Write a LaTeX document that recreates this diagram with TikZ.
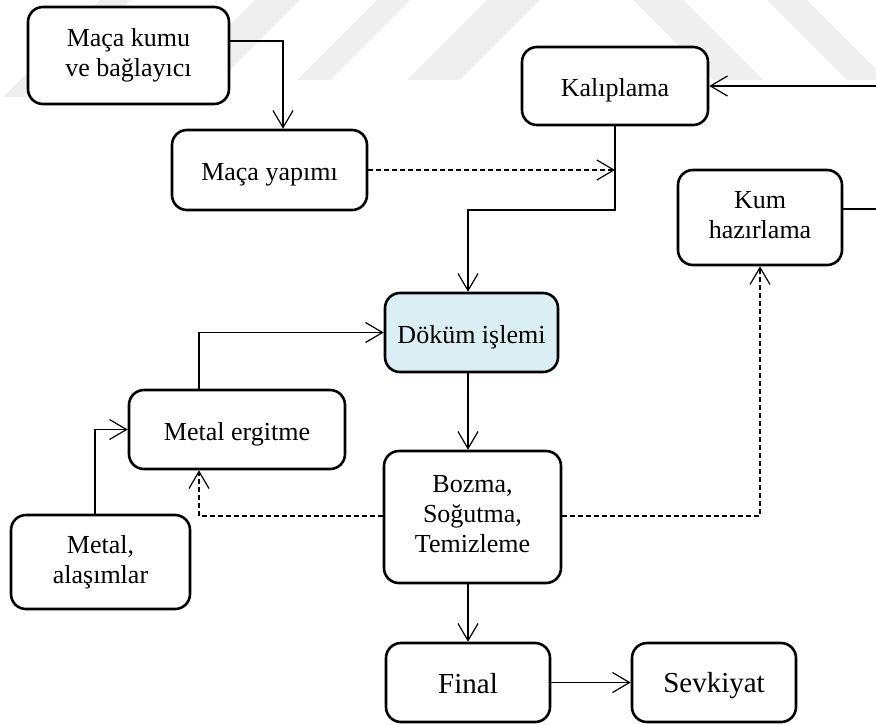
\documentclass[tikz,border=0pt]{standalone}
\usepackage{fontspec}
\setmainfont{Liberation Serif}
\usetikzlibrary{arrows.meta}
\definecolor{castfill}{HTML}{DAEEF3}
\definecolor{markgray}{HTML}{EFEFEF}

\begin{document}
\begin{tikzpicture}[x=0.5pt,y=-0.5pt,
  box/.style={draw, line width=1.3pt, rounded corners=7.5pt, fill=white,
    align=center, inner sep=0pt, font=\fontsize{13}{15}\selectfont,
    execute at begin node={\rule{0pt}{13.5pt}},
    execute at end node={\rule[-3pt]{0pt}{3pt}}},
  bigbox/.style={box, font=\fontsize{14.5}{17}\selectfont},
  conn/.style={line width=0.6pt, -{Straight Barb[length=8.5pt,width=10pt]}},
  dashconn/.style={conn, dash pattern=on 2.5pt off 1.5pt},
  band/.style={fill=markgray, draw=none}]

  % page frame
  \useasboundingbox (0,0) rectangle (876,724);
  \clip (0,0) rectangle (876,724);

  % faint diagonal bands behind the chart
  \fill[band] (100,0) -- (130,0) -- (33,97) -- (3,97) -- cycle;
  \fill[band] (255,0) -- (300,0) -- (218,82) -- (173,82) -- cycle;
  \fill[band] (377,0) -- (410,0) -- (330,80) -- (297,80) -- cycle;
  \fill[band] (487,0) -- (540,0) -- (460,80) -- (407,80) -- cycle;
  \fill[band] (633,0) -- (683,0) -- (763,80) -- (713,80) -- cycle;
  \fill[band] (767,0) -- (807,0) -- (887,80) -- (847,80) -- cycle;

  % process steps
  \node[box, minimum width=100.5pt, minimum height=48.5pt] (mk)  at (128.5,55.5) {Maça kumu\\ve bağlayıcı};
  \node[box, minimum width=97.5pt,  minimum height=40pt]   (my)  at (269.5,170)  {Maça yapımı};
  \node[box, minimum width=93pt,    minimum height=39pt]   (kal) at (615,86)     {Kalıplama};
  \node[box, minimum width=82pt,    minimum height=47.5pt] (kum) at (760,217.5)  {Kum\\hazırlama};
  \node[box, fill=castfill, minimum width=86.5pt, minimum height=39.5pt] (dok) at (471.5,332.5) {Döküm işlemi};
  \node[box, minimum width=108pt,   minimum height=39.5pt] (me)  at (237,429.5)  {Metal ergitme};
  \node[box, minimum width=89.5pt,  minimum height=47pt]   (ma)  at (100.5,562)  {Metal,\\alaşımlar};
  \node[box, minimum width=88.5pt,  minimum height=66pt]   (boz) at (472.5,517)  {Bozma,\\Soğutma,\\Temizleme};
  \node[bigbox, minimum width=82pt, minimum height=39.5pt] (fin) at (468,682.5)  {Final};
  \node[bigbox, minimum width=82pt, minimum height=39.5pt] (sev) at (714,682.5)  {Sevkiyat};

  % solid flows
  \draw[conn] (mk.east |- 0,41) -| (283,0 |- my.north);
  \draw[conn] (kal.south) |- (468,210) -- (468,0 |- dok.north);
  \draw[conn] (kum.east |- 0,209) -- (890,209) -- (890,86) -- (kal.east);
  \draw[conn] (199,0 |- me.north) |- (dok.west);
  \draw[conn] (95,0 |- ma.north) |- (me.west);
  \draw[conn] (468,0 |- dok.south) -- (468,0 |- boz.north);
  \draw[conn] (468,0 |- boz.south) -- (fin.north);
  \draw[conn] (fin.east) -- (sev.west);

  % returns and side feeds
  \draw[dashconn] (my.east) -- (kal.south |- my.east);
  \draw[dashconn] (boz.west |- 0,516) -| (199,0 |- me.south);
  \draw[dashconn] (boz.east |- 0,516) -| (kum.south);
\end{tikzpicture}
\end{document}
